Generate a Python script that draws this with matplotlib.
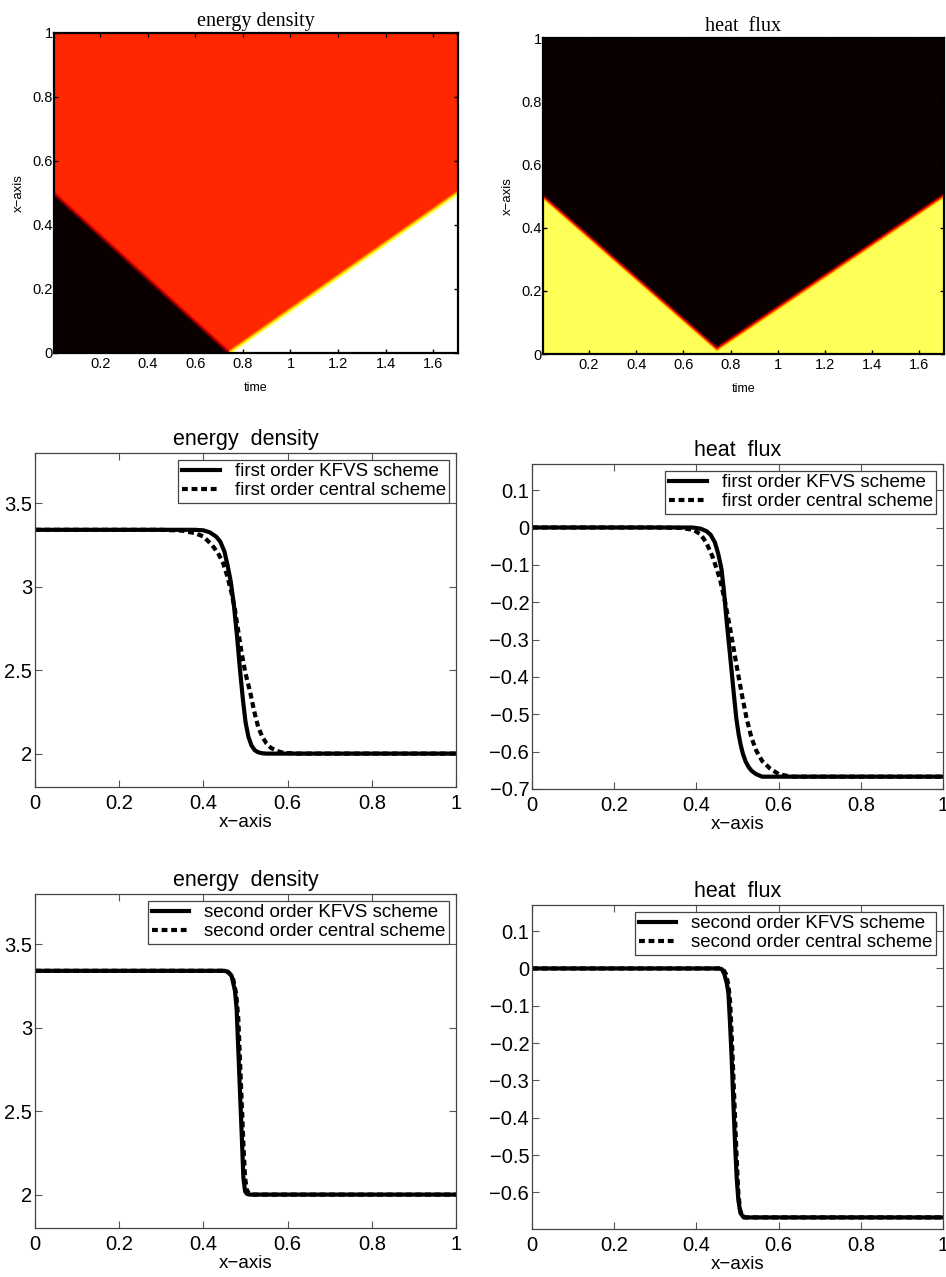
import numpy as np
import matplotlib
matplotlib.use("Agg")
import matplotlib.pyplot as plt
from matplotlib.ticker import FuncFormatter

plt.rcParams['font.family'] = ['Liberation Sans', 'DejaVu Sans']

# wave fronts in the (time, x) plane: corner points of the V
front_t = [0.0, 0.74, 1.70]
front_x = [0.50, 0.0, 0.50]
flux_front_x = [0.50, 0.015, 0.50]

# colour levels on the 'hot' map (0 = black, 1 = white)
energy_levels = {'left': 0.0, 'middle': 0.425, 'right': 1.0}
flux_levels = {'below': 0.835, 'above': 0.0}

# first order schemes
x1_kfvs_e = [0, 0.38, 0.40, 0.415, 0.43, 0.44, 0.45, 0.458, 0.465, 0.472, 0.48, 0.487, 0.494,
             0.50, 0.507, 0.514, 0.522, 0.53, 0.54, 0.55, 0.6, 1.0]
e1_kfvs = [3.34, 3.34, 3.337, 3.325, 3.30, 3.27, 3.21, 3.12, 3.03, 2.90, 2.70, 2.50, 2.32,
           2.19, 2.10, 2.05, 2.02, 2.008, 2.002, 2.0, 2.0, 2.0]
x1_cen_e = [0, 0.30, 0.35, 0.38, 0.40, 0.42, 0.435, 0.447, 0.457, 0.466, 0.475, 0.483, 0.491,
            0.50, 0.511, 0.52, 0.53, 0.54, 0.55, 0.56, 0.575, 0.59, 0.62, 1.0]
e1_cen = [3.34, 3.34, 3.335, 3.32, 3.30, 3.25, 3.20, 3.14, 3.06, 2.97, 2.86, 2.73, 2.60,
          2.48, 2.37, 2.26, 2.16, 2.10, 2.06, 2.035, 2.015, 2.005, 2.0, 2.0]

x1_kfvs_q = [0, 0.39, 0.41, 0.425, 0.435, 0.445, 0.453, 0.461, 0.467, 0.473, 0.479, 0.485,
             0.491, 0.497, 0.503, 0.508, 0.513, 0.52, 0.527, 0.534, 0.545, 0.56, 1.0]
q1_kfvs = [0, 0, -0.003, -0.01, -0.02, -0.04, -0.07, -0.111, -0.17, -0.244, -0.31, -0.377,
           -0.445, -0.51, -0.555, -0.583, -0.605, -0.627, -0.641, -0.651, -0.660, -0.667, -0.667]
x1_cen_q = [0, 0.30, 0.36, 0.392, 0.41, 0.424, 0.44, 0.457, 0.47, 0.482, 0.492, 0.502, 0.512,
            0.522, 0.534, 0.546, 0.56, 0.579, 0.60, 0.63, 1.0]
q1_cen = [0, 0, -0.001, -0.006, -0.018, -0.04, -0.08, -0.137, -0.20, -0.27, -0.333, -0.395,
          -0.455, -0.51, -0.563, -0.598, -0.625, -0.645, -0.66, -0.667, -0.667]

# second order schemes
x2_kfvs_e = [0, 0.45, 0.458, 0.467, 0.475, 0.479, 0.483, 0.487, 0.491, 0.495, 0.499, 0.503, 0.51, 1.0]
e2_kfvs = [3.34, 3.34, 3.335, 3.31, 3.22, 3.11, 2.86, 2.61, 2.36, 2.10, 2.02, 2.005, 2.0, 2.0]
x2_cen_e = [0, 0.45, 0.46, 0.47, 0.478, 0.483, 0.487, 0.491, 0.495, 0.499, 0.503, 0.507, 0.513, 0.52, 1.0]
e2_cen = [3.34, 3.34, 3.33, 3.30, 3.20, 3.05, 2.80, 2.55, 2.30, 2.10, 2.03, 2.01, 2.0, 2.0, 2.0]

x2_kfvs_q = [0, 0.455, 0.462, 0.468, 0.474, 0.478, 0.482, 0.486, 0.490, 0.494, 0.498, 0.502, 0.507, 0.515, 1.0]
q2_kfvs = [0, 0, -0.002, -0.015, -0.04, -0.067, -0.15, -0.246, -0.36, -0.469, -0.56, -0.62, -0.655, -0.667, -0.667]
x2_cen_q = [0, 0.455, 0.465, 0.472, 0.478, 0.482, 0.486, 0.490, 0.494, 0.498, 0.502, 0.506, 0.511, 0.52, 1.0]
q2_cen = [0, 0, -0.002, -0.015, -0.045, -0.09, -0.18, -0.29, -0.40, -0.51, -0.60, -0.645, -0.662, -0.667, -0.667]

W, H = 946, 1277
fig = plt.figure(figsize=(W / 100, H / 100), dpi=100)


def place(l, t, r, b):
    return fig.add_axes([l / W, 1 - b / H, (r - l) / W, (b - t) / H])


def fmt(v, _):
    if abs(v) < 1e-9:
        return '0'
    return f'{v:g}'.replace('-', '\u2212')


# ---- space-time pictures ----
tg = np.linspace(0.005, 1.705, 1000)
xg = np.linspace(0, 1, 700)
T, X = np.meshgrid(tg, xg)
ramp = 0.02

front = np.interp(T, front_t, front_x)
s = np.clip((X - front) / ramp + 0.5, 0, 1)
lower = np.where(T < front_t[1], energy_levels['left'], energy_levels['right'])
energy = lower * (1 - s) + energy_levels['middle'] * s

ffront = np.interp(T, front_t, flux_front_x)
s = np.clip((X - ffront) / ramp + 0.5, 0, 1)
flux = flux_levels['below'] * (1 - s) + flux_levels['above'] * s

for field, title, box in [(energy, 'energy density', (54, 33, 458, 353)),
                          (flux, 'heat  flux', (543, 38, 944, 354))]:
    ax = place(*box)
    ax.imshow(field, cmap='hot', vmin=0, vmax=1, origin='lower', aspect='auto',
              extent=[tg[0], tg[-1], 0, 1], interpolation='bilinear')
    ax.set_xlim(tg[0], tg[-1])
    ax.set_ylim(0, 1)
    ax.set_xticks(np.arange(0.2, 1.61, 0.2))
    ax.set_yticks(np.arange(0, 1.01, 0.2))
    ax.xaxis.set_major_formatter(FuncFormatter(fmt))
    ax.yaxis.set_major_formatter(FuncFormatter(fmt))
    ax.tick_params(direction='in', length=3, labelsize=10.5, pad=3,
                   top=True, right=True, width=1)
    ax.tick_params(axis='y', pad=1)
    for sp in ax.spines.values():
        sp.set_linewidth(1.6)
    ax.set_title(title, family='Liberation Serif', fontsize=14.5, pad=5)
    ax.set_xlabel('time', fontsize=9, labelpad=8)
    ax.set_ylabel('x\u2212axis', fontsize=9.5, labelpad=5)

# ---- profiles ----
panels = [
    ((35, 453, 456, 787), 'energy  density', x1_kfvs_e, e1_kfvs, x1_cen_e, e1_cen, 'first', 'e'),
    ((532, 464, 943, 789), 'heat  flux', x1_kfvs_q, q1_kfvs, x1_cen_q, q1_cen, 'first', 'q1'),
    ((35, 894, 456, 1228), 'energy  density', x2_kfvs_e, e2_kfvs, x2_cen_e, e2_cen, 'second', 'e'),
    ((532, 905, 943, 1229), 'heat  flux', x2_kfvs_q, q2_kfvs, x2_cen_q, q2_cen, 'second', 'q2'),
]

for box, title, xk, yk, xc, yc, order, kind in panels:
    ax = place(*box)
    ax.plot(xk, yk, 'k-', lw=3.0, label=f'{order} order KFVS scheme', solid_joinstyle='round')
    ax.plot(xc, yc, 'k', ls=(0, (1.4, 0.9)), lw=3.0, label=f'{order} order central scheme')
    ax.set_xlim(0, 1)
    ax.set_xticks(np.arange(0, 1.01, 0.2))
    if kind == 'e':
        ax.set_ylim(1.8, 3.8)
        ax.set_yticks([2, 2.5, 3, 3.5])
    elif kind == 'q1':
        ax.set_ylim(-0.7, 0.17)
        ax.set_yticks(np.round(np.arange(-0.7, 0.11, 0.1), 1))
    else:
        ax.set_ylim(-0.698, 0.17)
        ax.set_yticks(np.round(np.arange(-0.6, 0.11, 0.1), 1))
    ax.xaxis.set_major_formatter(FuncFormatter(fmt))
    ax.yaxis.set_major_formatter(FuncFormatter(fmt))
    ax.tick_params(direction='in', length=5, labelsize=14.5, pad=5,
                   top=True, right=True, width=0.8, color='#555555')
    ax.tick_params(axis='y', pad=2)
    for sp in ax.spines.values():
        sp.set_linewidth(0.9)
        sp.set_color('#444444')
    ax.set_title(title, fontsize=15.5, pad=6)
    ax.set_xlabel('x\u2212axis', fontsize=13.5, labelpad=1)
    leg = ax.legend(loc='upper right', bbox_to_anchor=(1, 1), borderaxespad=0.35,
                    fontsize=13.5, fancybox=False, framealpha=1, handlelength=2.0,
                    handletextpad=0.8, borderpad=0.2, labelspacing=0.1)
    leg.get_frame().set_edgecolor('#444444')
    leg.get_frame().set_linewidth(0.9)

fig.savefig('out.png', dpi=100)
